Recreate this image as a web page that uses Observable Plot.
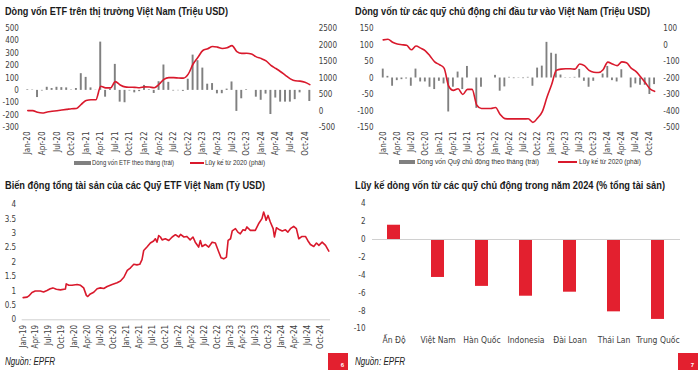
<!DOCTYPE html>
<html><head><meta charset="utf-8">
<script src="https://cdn.jsdelivr.net/npm/d3@7"></script>
<script src="https://cdn.jsdelivr.net/npm/@observablehq/plot@0.6"></script>
<style>
body{margin:0;background:#fff;width:700px;height:370px;position:relative;overflow:hidden;font-family:"Liberation Sans",Arial,sans-serif;}
.t{position:absolute;font-weight:bold;font-size:11.5px;line-height:14px;color:#1a1a1a;white-space:nowrap;transform-origin:0 50%;}
.p{position:absolute;}
.leg{position:absolute;font-size:8px;line-height:10px;color:#333;white-space:nowrap;transform-origin:0 50%;}
.sw{position:absolute;}
.src{position:absolute;font-style:italic;font-size:10px;line-height:12px;color:#222;white-space:nowrap;transform-origin:0 50%;}
.pg{position:absolute;width:20px;height:17px;background:#e3202f;color:#fff;font-size:6px;font-weight:bold;}
.pg span{position:absolute;right:4px;bottom:2px;}
</style>
</head><body>
<div class="t" data-w="223" style="left:5px;top:4px">Dòng vốn ETF trên thị trường Việt Nam (Triệu USD)</div>
<div class="t" data-w="295" style="left:355px;top:4px">Dòng vốn từ các quỹ chủ động chỉ đầu tư vào Việt Nam (Triệu USD)</div>
<div class="t" data-w="260" style="left:5px;top:178px">Biến động tổng tài sản của các Quỹ ETF Việt Nam (Tỷ USD)</div>
<div class="t" data-w="310" style="left:355px;top:178px">Lũy kế dòng vốn từ các quỹ chủ động trong năm 2024 (% tổng tài sản)</div>
<div class="p" id="c1" style="left:0;top:20px"></div>
<div class="p" id="c2" style="left:350px;top:20px"></div>
<div class="p" id="c3" style="left:0;top:190px"></div>
<div class="p" id="c4" style="left:350px;top:190px"></div>
<div class="sw" style="left:74px;top:161px;width:17px;height:4px;background:#808080"></div>
<div class="leg" data-w="82" style="left:92px;top:158px">Dòng vốn ETF theo tháng (trái)</div>
<div class="sw" style="left:190px;top:162px;width:14px;height:2px;background:#d9192c"></div>
<div class="leg" data-w="60" style="left:205px;top:158px">Lũy kế từ 2020 (phải)</div>
<div class="sw" style="left:399px;top:160px;width:16px;height:4px;background:#808080"></div>
<div class="leg" data-w="122" style="left:417px;top:157px">Dòng vốn Quỹ chủ động theo tháng (trái)</div>
<div class="sw" style="left:558px;top:161px;width:19px;height:2px;background:#d9192c"></div>
<div class="leg" data-w="62" style="left:579px;top:157px">Lũy kế từ 2020 (phải)</div>
<div class="src" data-w="50" style="left:5px;top:356px">Nguồn: EPFR</div>
<div class="src" data-w="50" style="left:355px;top:356px">Nguồn: EPFR</div>
<div class="pg" style="left:328px;top:353px"><span>6</span></div>
<div class="pg" style="left:678px;top:353px"><span>7</span></div>
<script>
const FONT = '"Liberation Sans Narrow","DejaVu Sans Condensed",sans-serif';
const RED = "#d9192c";
const GRAY = "#808080";
const TXT = "#404040";

// Monthly categories Jan-20 .. Nov-24
const months = d3.utcMonth.range(new Date(Date.UTC(2020,0,1)), new Date(Date.UTC(2024,11,1)));
const monthLabels = months.map(d3.utcFormat("%b-%y"));
const monthTicks = monthLabels.filter((d,i)=>i%3===0);

// Panel 1: ETF flows (million USD)
const etfFlow = [5,3,-58,-5,25,15,25,22,20,3,15,135,
  105,20,2,390,-55,10,210,-95,-100,-5,-20,-10,
  40,5,-25,70,205,65,-5,-3,-8,90,285,240,
  180,50,55,-28,-27,10,68,-170,-68,5,0,-55,
  -80,-30,-195,-62,-95,-95,-95,-75,-20,0,-90];
const etfCum = [12,12,-40,-60,-30,-10,10,30,50,70,75,200,
  320,340,340,750,700,700,890,790,730,720,715,705,
  730,725,705,810,960,1010,1010,1000,995,1117,1424,1627,
  1833,1885,1956,1935,1895,1915,1980,1800,1745,1750,1730,1640,
  1590,1520,1385,1290,1190,1080,975,915,905,870,800];
const etfLeftTicks = [-300,-200,-100,0,100,200,300,400,500];
const etfRightTicks = [-500,0,500,1000,1500,2000,2500];

// Panel 2: active funds flows (million USD)
const actFlow = [27,5,-25,-8,-5,-3,-25,27,-12,-12,-28,-35,
  -10,-18,-103,-28,18,-35,35,0,-92,-28,0,0,
  8,-40,-27,2,-2,1,-2,2,-25,30,36,108,
  75,72,9,1,-1,2,26,-10,-28,-10,0,12,
  35,-8,-12,25,0,-30,-18,-22,-22,-50,-20];
const actCum = [31,35,17,6,2,-2,-29,-6,-19,-35,-67,-102,
  -119,-140,-250,-275,-265,-300,-269,-269,-365,-385,-385,-385,
  -379,-421,-446,-448,-448,-448,-448,-447,-469,-442,-404,-317,
  -240,-154,-146,-144,-144,-146,-115,-125,-154,-165,-167,-150,
  -104,-115,-125,-102,-108,-140,-160,-192,-227,-265,-281];
const actLeftTicks = [-150,-100,-50,0,50,100,150];
const actRightTicks = [-500,-400,-300,-200,-100,0,100];

// Panel 3: total assets of Vietnam ETFs (billion USD)
const aumDates = ["2019-01-01","2019-01-29","2019-02-10","2019-03-04","2019-03-27","2019-05-02","2019-05-25","2019-06-18","2019-07-11","2019-07-30","2019-08-23","2019-09-21","2019-10-26","2019-11-01","2019-11-19","2019-12-12",
 "2020-01-17","2020-02-10","2020-03-03","2020-03-22","2020-04-01","2020-04-19","2020-05-13","2020-06-06","2020-06-29","2020-07-23","2020-08-16","2020-09-20","2020-10-25","2020-11-18","2020-12-12",
 "2021-01-05","2021-01-28","2021-02-20","2021-03-14","2021-04-03","2021-04-19","2021-05-01","2021-05-24","2021-06-17","2021-07-10","2021-07-22","2021-08-03","2021-08-15","2021-08-27","2021-09-08","2021-10-01","2021-10-25","2021-11-18","2021-12-11",
 "2022-01-04","2022-01-16","2022-02-09","2022-03-02","2022-03-25","2022-04-14","2022-04-30","2022-05-24","2022-06-05","2022-06-17","2022-07-10","2022-08-03","2022-08-27","2022-09-19","2022-10-13","2022-10-29","2022-11-17","2022-12-06","2022-12-18",
 "2023-01-04","2023-01-16","2023-02-08","2023-02-25","2023-03-14","2023-04-02","2023-04-18","2023-04-30","2023-05-24","2023-06-28","2023-07-21","2023-08-14","2023-08-26","2023-09-03","2023-09-12","2023-09-26","2023-10-12","2023-11-01","2023-11-10","2023-11-24","2023-12-17",
 "2024-01-04","2024-01-27","2024-02-13","2024-03-02","2024-03-25","2024-04-13","2024-04-30","2024-05-23","2024-06-16","2024-07-02","2024-07-21","2024-08-14","2024-09-02","2024-09-19","2024-10-12","2024-11-05","2024-11-28"];
const aumValues = [0.77,0.79,0.83,0.95,1.0,1.0,0.97,1.02,1.08,1.11,1.06,1.04,1.07,1.25,1.2,1.2,
 1.23,1.2,1.11,0.85,0.81,0.9,0.96,1.08,1.11,1.09,1.16,1.23,1.29,1.35,1.48,
 1.72,1.81,1.93,1.91,1.93,2.09,2.41,2.53,2.67,2.74,2.82,2.70,2.93,2.88,2.78,2.82,2.76,2.88,2.96,
 2.88,2.97,2.88,2.90,2.78,2.88,2.70,2.53,2.76,2.55,2.62,2.53,2.70,2.67,2.36,2.16,2.12,2.18,2.76,
 2.82,3.09,3.17,3.05,2.99,3.13,3.11,3.23,3.11,3.11,3.34,3.52,3.75,3.63,3.46,3.63,3.40,3.17,2.88,3.20,3.13,
 3.09,3.13,3.05,3.17,3.25,3.17,2.82,2.90,2.90,2.76,2.62,2.55,2.67,2.59,2.70,2.59,2.39];
const aumTicks = [0,0.5,1,1.5,2,2.5,3,3.5,4];

// Panel 4: 2024 cumulative active flows (% of AUM)
const countries = ["Ấn Độ","Việt Nam","Hàn Quốc","Indonesia","Đài Loan","Thái Lan","Trung Quốc"];
const pctAum = [1.6,-4.25,-5.25,-6.35,-5.9,-8.1,-8.95];
const pctTicks = [-10,-8,-6,-4,-2,0,2,4];

const style = {fontFamily: FONT, fontSize: "8px", color: TXT, background: "transparent"};

function dualPanel(el, flows, cum, lTicks, rTicks, lDom, rDom, m) {
  const toL = v => lDom[0] + (v - rDom[0]) * (lDom[1]-lDom[0]) / (rDom[1]-rDom[0]);
  const toR = v => rDom[0] + (v - lDom[0]) * (rDom[1]-rDom[0]) / (lDom[1]-lDom[0]);
  const data = monthLabels.map((mm,i)=>({m: mm, flow: flows[i], cum: toL(cum[i])}));
  const p = Plot.plot({
    width: 350, height: 140,
    marginLeft: m.left, marginRight: m.right, marginTop: 8, marginBottom: 33,
    style,
    x: {type: "band", domain: monthLabels, paddingInner: 0.6, paddingOuter: 0.6},
    y: {domain: lDom},
    marks: [
      Plot.barY(data, {x: "m", y: "flow", fill: GRAY}),
      Plot.line(data, {x: "m", y: "cum", stroke: RED, strokeWidth: 1.6, curve: "monotone-x"}),
      Plot.axisY(lTicks, {anchor: "left", tickSize: 0, tickPadding: m.lpad, label: null, fill: TXT, tickFormat: d => String(d)}),
      Plot.axisY(rTicks.map(toL), {anchor: "right", tickSize: 0, tickPadding: 5, label: null, fill: TXT, textAnchor: "start", tickFormat: d => String(Math.round(toR(d)))}),
      Plot.axisX(monthTicks, {tickRotate: -90, tickSize: 0, tickPadding: 4, label: null, fill: TXT})
    ]
  });
  document.getElementById(el).appendChild(p);
}

dualPanel("c1", etfFlow, etfCum, etfLeftTicks, etfRightTicks, [-300,500], [-500,2500], {left: 23.4, right: 36.8, lpad: 5});
dualPanel("c2", actFlow, actCum, actLeftTicks, actRightTicks, [-150,150], [-500,100], {left: 29, right: 42.2, lpad: 6});

// Panel 3
const aum = aumDates.map((d,i)=>({date: new Date(d), v: aumValues[i]}));
const qTicks = d3.utcMonth.every(3).range(new Date(Date.UTC(2019,0,1)), new Date(Date.UTC(2024,10,1)));
document.getElementById("c3").appendChild(Plot.plot({
  width: 350, height: 160,
  marginLeft: 21.7, marginRight: 20, marginTop: 14.3, marginBottom: 30.7,
  style,
  x: {type: "utc", domain: [new Date("2018-12-25"), new Date("2024-12-10")]},
  y: {domain: [0, 4]},
  marks: [
    Plot.ruleY([0], {stroke: "#d0d0d0"}),
    Plot.line(aum, {x: "date", y: "v", stroke: RED, strokeWidth: 1.6}),
    Plot.axisY(aumTicks, {tickSize: 0, tickPadding: 6, label: null, fill: TXT, tickFormat: d => String(d)}),
    Plot.axisX(qTicks, {tickRotate: -90, tickSize: 0, tickPadding: 5, label: null, fill: TXT, tickFormat: d3.utcFormat("%b-%y")})
  ]
}));

// Panel 4
const bars = countries.map((c,i)=>({c, v: pctAum[i]}));
document.getElementById("c4").appendChild(Plot.plot({
  width: 350, height: 160,
  marginLeft: 22, marginRight: 20, marginTop: 13.3, marginBottom: 21.7,
  style,
  x: {type: "band", domain: countries, paddingInner: 0.7, paddingOuter: 0.35},
  y: {domain: [-10, 4]},
  marks: [
    Plot.barY(bars, {x: "c", y: "v", fill: "#e3202f"}),
    Plot.ruleY([0], {stroke: "#d0d0d0"}),
    Plot.axisY(pctTicks, {tickSize: 0, tickPadding: 7, label: null, fill: TXT, tickFormat: d => String(d)}),
    Plot.axisX(countries, {tickSize: 0, tickPadding: 8, label: null, fill: TXT, fontSize: 8.5})
  ]
}));

// Fit HTML texts horizontally to the widths seen in the reference (narrow font look)
document.querySelectorAll("[data-w]").forEach(el => {
  const w = el.getBoundingClientRect().width;
  const target = +el.dataset.w;
  if (w > 0) el.style.transform = `scaleX(${target / w})`;
});
</script>
</body></html>
